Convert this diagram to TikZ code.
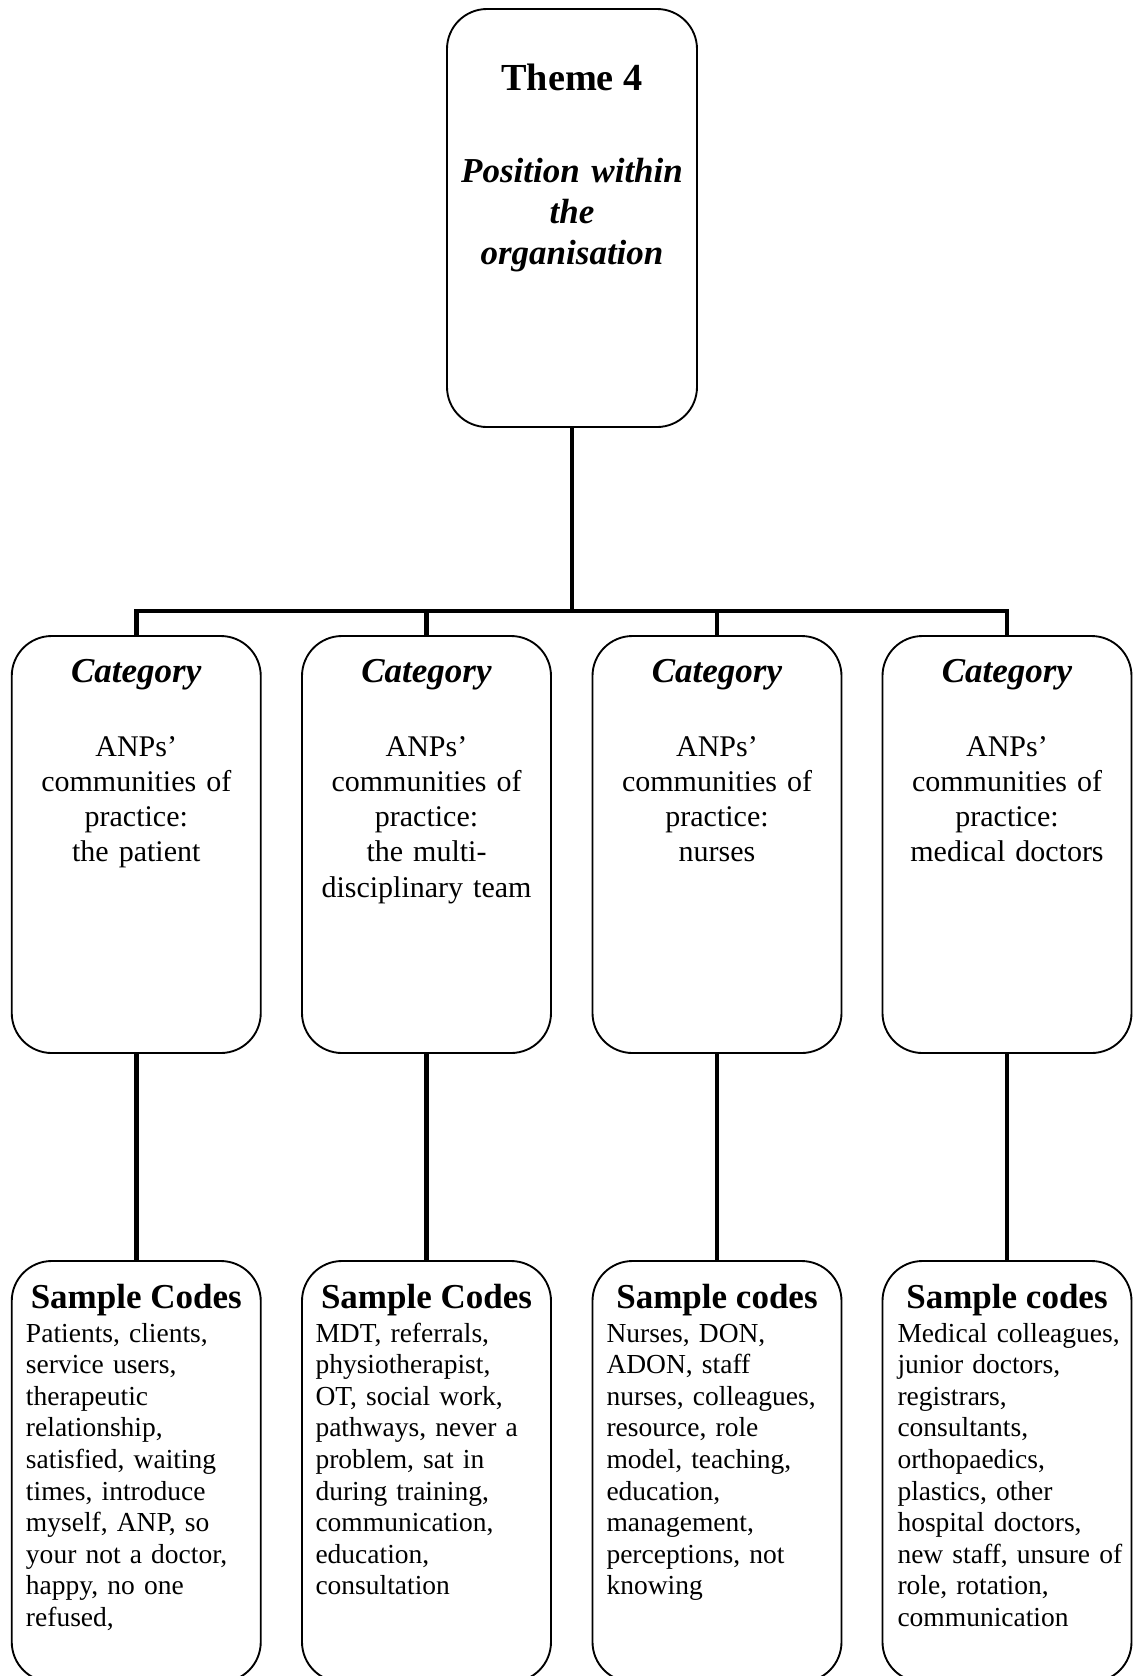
\documentclass[tikz,border=0pt]{standalone}
\usepackage{fontspec}
\setmainfont{Liberation Serif}
\begin{document}
\begin{tikzpicture}[x=0.4pt,y=-0.4pt,
  box/.style={draw,line width=0.75pt,rounded corners=16pt,inner sep=0pt,outer sep=0pt,minimum width=99.6pt},
  catbox/.style={box,minimum height=166.8pt},
  codebox/.style={box,minimum height=168.4pt},
  conn/.style={line width=1.8pt},
  cattitle/.style={anchor=base,inner sep=0pt,font=\fontsize{14}{16}\selectfont\bfseries\itshape},
  catbody/.style={anchor=base,inner sep=0pt,align=center,text width=98pt,font=\fontsize{12}{14.1}\selectfont},
  codetitle/.style={anchor=base,inner sep=0pt,font=\fontsize{14}{16}\selectfont\bfseries},
  codebody/.style={anchor=base west,inner sep=0pt,align=left,text width=94pt,font=\fontsize{11}{12.64}\selectfont}
]
\useasboundingbox (0,0) rectangle (1134,1676);
\clip (0,0) rectangle (1134,1676);
\fill[white] (0,0) rectangle (1134,1676);

% theme box
\node[box,minimum width=100pt,minimum height=167.2pt] (theme) at (572,218) {};
\node[anchor=base,inner sep=0pt,font=\fontsize{15.3}{18}\selectfont\bfseries] (t4) at (572,90) {Theme 4};
\node[anchor=base,inner sep=0pt,align=center,text width=98pt,font=\fontsize{14}{16.4}\selectfont\bfseries\itshape] (pos) at (572,182) {Position within\\the\\organisation};

% category boxes
\node[catbox] (c1) at (136.25,844.5) {};
\node[catbox] (c2) at (426.5,844.5) {};
\node[catbox] (c3) at (717,844.5) {};
\node[catbox] (c4) at (1007,844.5) {};

\node[cattitle] (ct1) at (136.25,682) {Category};
\node[cattitle] (ct2) at (426.5,682) {Category};
\node[cattitle] (ct3) at (717,682) {Category};
\node[cattitle] (ct4) at (1007,682) {Category};

\node[catbody] (cb1) at (136.25,756) {ANPs’\\communities of\\practice:\\the patient};
\node[catbody] (cb2) at (426.5,756) {ANPs’\\communities of\\practice:\\the multi-\\disciplinary team};
\node[catbody] (cb3) at (717,756) {ANPs’\\communities of\\practice:\\nurses};
\node[catbody] (cb4) at (1007,756) {ANPs’\\communities of\\practice:\\medical doctors};

% code boxes
\node[codebox] (s1) at (136.25,1471.5) {};
\node[codebox] (s2) at (426.5,1471.5) {};
\node[codebox] (s3) at (717,1471.5) {};
\node[codebox] (s4) at (1007,1471.5) {};

\node[codetitle] (st1) at (136.25,1308) {Sample Codes};
\node[codetitle] (st2) at (426.5,1308) {Sample Codes};
\node[codetitle] (st3) at (717,1308) {Sample codes};
\node[codetitle] (st4) at (1007,1308) {Sample codes};

\node[codebody] (sb1) at (25.5,1342) {Patients, clients,\\service users,\\therapeutic\\relationship,\\satisfied, waiting\\times, introduce\\myself, ANP, so\\your not a doctor,\\happy, no one\\refused,};
\node[codebody] (sb2) at (315,1342) {MDT, referrals,\\physiotherapist,\\OT, social work,\\pathways, never a\\problem, sat in\\during training,\\communication,\\education,\\consultation};
\node[codebody] (sb3) at (606,1342) {Nurses, DON,\\ADON, staff\\nurses, colleagues,\\resource, role\\model, teaching,\\education,\\management,\\perceptions, not\\knowing};
\node[codebody] (sb4) at (897,1342) {Medical colleagues,\\junior doctors,\\registrars,\\consultants,\\orthopaedics,\\plastics, other\\hospital doctors,\\new staff, unsure of\\role, rotation,\\communication};

% connectors
\coordinate (bar) at (572,611);
\draw[conn] (theme.south) -- (bar);
\draw[conn,line join=miter] (c1.north) -- (c1.north |- bar) -- (c4.north |- bar) -- (c4.north);
\draw[conn] (c2.north) -- (c2.north |- bar);
\draw[conn] (c3.north) -- (c3.north |- bar);
\draw[conn] (c1.south) -- (s1.north);
\draw[conn] (c2.south) -- (s2.north);
\draw[conn] (c3.south) -- (s3.north);
\draw[conn] (c4.south) -- (s4.north);
\end{tikzpicture}
\end{document}
